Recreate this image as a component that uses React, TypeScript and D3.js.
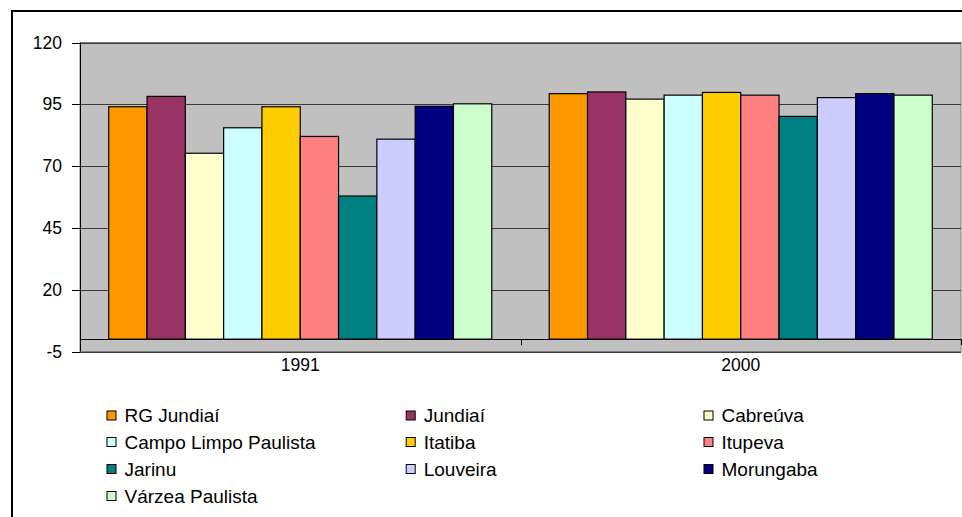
import React from "react";
import * as d3 from "d3";

const years = ["1991", "2000"];
const municipalities = [
  "RG Jundiaí",
  "Jundiaí",
  "Cabreúva",
  "Campo Limpo Paulista",
  "Itatiba",
  "Itupeva",
  "Jarinu",
  "Louveira",
  "Morungaba",
  "Várzea Paulista",
];
const values1991 = [94.0, 98.2, 75.2, 85.5, 94.0, 82.0, 57.9, 80.9, 94.2, 95.2];
const values2000 = [99.3, 100.0, 97.1, 98.7, 99.8, 98.7, 90.1, 97.7, 99.3, 98.7];
const colors = [
  "#FF9900",
  "#993366",
  "#FFFFCC",
  "#CCFFFF",
  "#FFCC00",
  "#FF8080",
  "#008080",
  "#CCCCFF",
  "#000080",
  "#CCFFCC",
];
const yTicks = [-5, 20, 45, 70, 95, 120];

const W = 962;
const H = 517;
const FONT = "'Liberation Sans', Arial, sans-serif";

export default function App() {
  const left = 80;
  const right = 961;
  const top = 42.5;
  const bottom = 351.5;

  const y = d3.scaleLinear().domain([-5, 120]).range([bottom, top]);
  const x0 = d3.scaleBand<string>().domain(years).range([left, right]).padding(0);
  const x1 = d3
    .scaleBand<string>()
    .domain(municipalities)
    .range([0, x0.bandwidth()])
    .paddingInner(0)
    .paddingOuter(0.75);

  const seriesByYear = [values1991, values2000];
  const y0 = y(0);

  const legendCols = [106.5, 405.7, 703.5];
  const legendRows = [415.5, 442, 469, 496];

  return (
    <svg
      width={W}
      height={H}
      style={{ position: "absolute", left: 0, top: 0, background: "#fff" }}
      fontFamily={FONT}
    >
      {/* outer chart frame */}
      <rect x={12} y={11} width={1000} height={600} fill="#fff" stroke="#000" strokeWidth={2} />

      {/* plot area */}
      <rect x={left} y={top} width={right - left} height={bottom - top} fill="#C0C0C0" stroke="#808080" strokeWidth={1} />

      {/* gridlines */}
      {yTicks.map((t) => (
        <line
          key={"g" + t}
          x1={left}
          x2={right}
          y1={Math.round(y(t)) + 0.5}
          y2={Math.round(y(t)) + 0.5}
          stroke="#3a3a3a"
          strokeWidth={1}
        />
      ))}

      {/* bars */}
      {years.map((yr, gi) => (
        <g key={yr} transform={`translate(${x0(yr)},0)`}>
          {municipalities.map((m, i) => {
            const v = seriesByYear[gi][i];
            return (
              <rect
                key={m}
                x={x1(m)!}
                y={y(v)}
                width={x1.bandwidth()}
                height={y0 - y(v)}
                fill={colors[i]}
                stroke="#000"
                strokeWidth={1.2}
              />
            );
          })}
        </g>
      ))}

      {/* x axis at zero */}
      <line x1={left} x2={right} y1={Math.round(y0) + 0.5} y2={Math.round(y0) + 0.5} stroke="#000" strokeWidth={1} />
      {[left, right, ...years.slice(1).map((yr) => x0(yr)!)].map((xx, i) => (
        <line key={"ct" + i} x1={Math.round(xx) + 0.5} x2={Math.round(xx) + 0.5} y1={y0} y2={y0 + 6} stroke="#000" />
      ))}

      {/* y axis */}
      <line x1={left + 0.5} x2={left + 0.5} y1={top} y2={bottom} stroke="#000" />
      {yTicks.map((t) => (
        <g key={"t" + t}>
          <line x1={left - 8} x2={left} y1={Math.round(y(t)) + 0.5} y2={Math.round(y(t)) + 0.5} stroke="#000" />
          <text x={62} y={y(t)} dy="0.35em" textAnchor="end" fontSize={17.5} fill="#000">
            {t}
          </text>
        </g>
      ))}

      {/* category labels */}
      {years.map((yr) => (
        <text
          key={"l" + yr}
          x={x0(yr)! + x0.bandwidth() / 2}
          y={364.5}
          dy="0.35em"
          textAnchor="middle"
          fontSize={17.5}
          fill="#000"
        >
          {yr}
        </text>
      ))}

      {/* legend */}
      {municipalities.map((m, i) => {
        const cx = legendCols[i % 3];
        const cy = legendRows[Math.floor(i / 3)];
        return (
          <g key={"lg" + m}>
            <rect x={cx + 0.5} y={cy - 4.5} width={9} height={9} fill={colors[i]} stroke="#000" strokeWidth={1} />
            <text x={cx + 18} y={cy} dy="0.36em" fontSize={19} fill="#000">
              {m}
            </text>
          </g>
        );
      })}
    </svg>
  );
}
